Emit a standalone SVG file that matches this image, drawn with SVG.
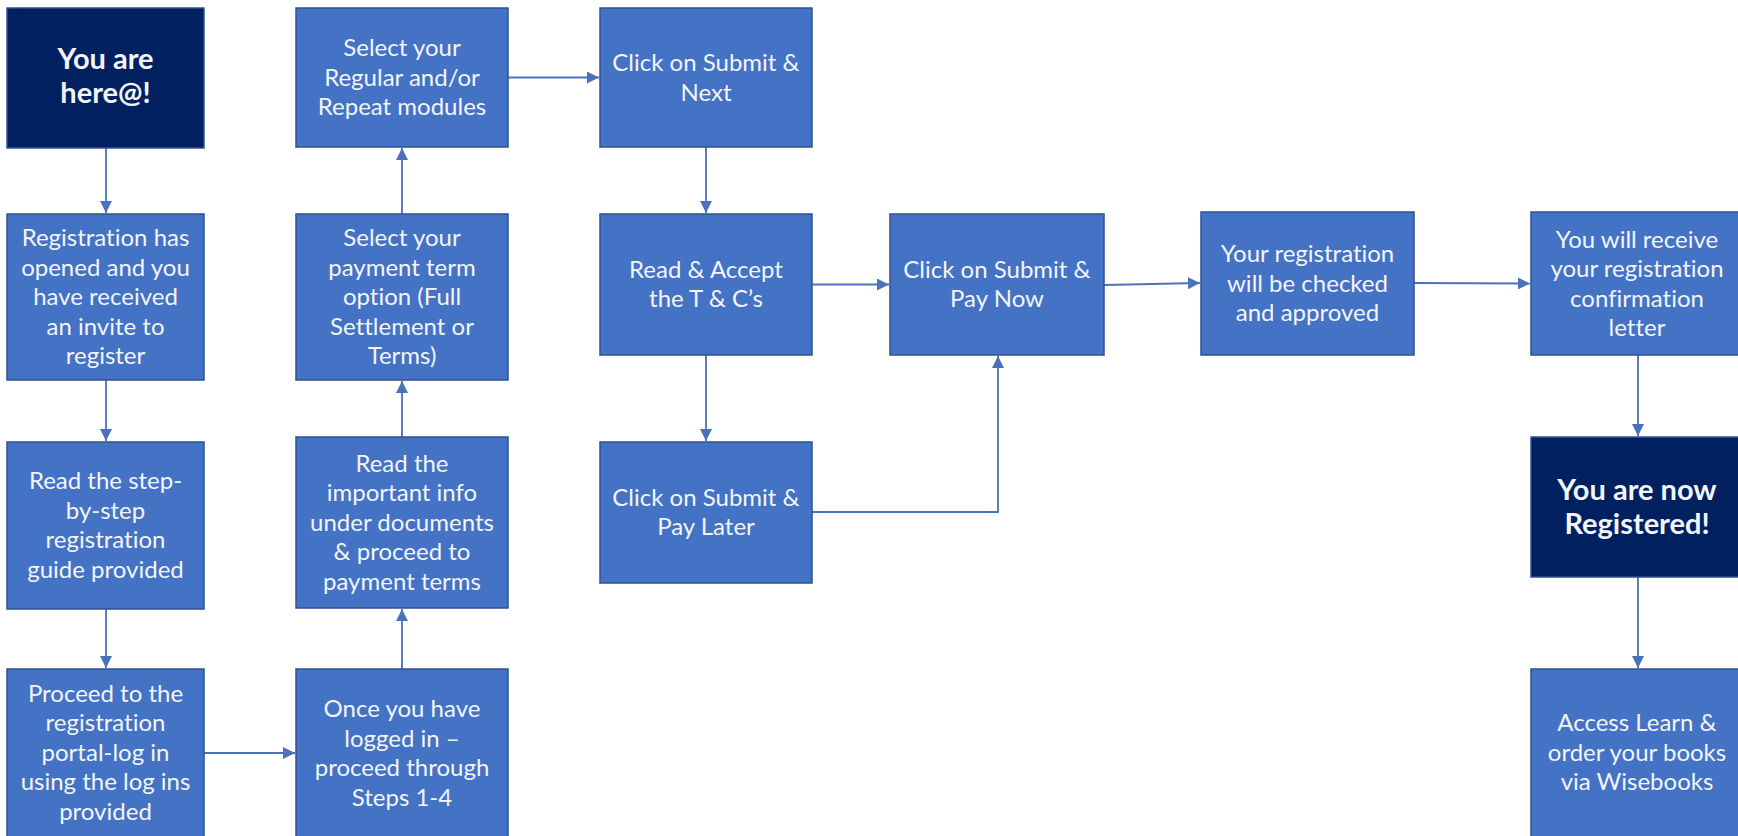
<svg xmlns="http://www.w3.org/2000/svg" width="1738" height="836" viewBox="0 0 1738 836">
<style>
.box{fill:#4472C4;stroke:#2F528F;stroke-width:1.5}
.dark{fill:#002060;stroke:#2F528F;stroke-width:1.5}
.t{font-family:Lato,"Liberation Sans",sans-serif;font-size:24px;fill:#F2F5FB;text-anchor:middle;font-variant-ligatures:none}
.b{font-family:Lato,"Liberation Sans",sans-serif;font-size:29px;font-weight:bold;fill:#F2F5FB;text-anchor:middle;font-variant-ligatures:none}
.c{fill:none;stroke:#4A72BC;stroke-width:1.8}
</style>
<defs>
<marker id="ah" markerUnits="userSpaceOnUse" markerWidth="13" markerHeight="12" refX="12" refY="6" orient="auto">
<path d="M0,0 L12,6 L0,12 z" fill="#4A72BC"/>
</marker>
</defs>
<rect width="1738" height="836" fill="#ffffff"/>
<g id="connectors">
<path class="c" d="M106,148 V213" marker-end="url(#ah)"/>
<path class="c" d="M106,380 V441" marker-end="url(#ah)"/>
<path class="c" d="M106,609 V668" marker-end="url(#ah)"/>
<path class="c" d="M204,753 H295" marker-end="url(#ah)"/>
<path class="c" d="M402,669 V609" marker-end="url(#ah)"/>
<path class="c" d="M402,437 V381" marker-end="url(#ah)"/>
<path class="c" d="M402,214 V148" marker-end="url(#ah)"/>
<path class="c" d="M508,77.5 H599" marker-end="url(#ah)"/>
<path class="c" d="M706,147 V213" marker-end="url(#ah)"/>
<path class="c" d="M706,355 V441" marker-end="url(#ah)"/>
<path class="c" d="M812,284.5 H889" marker-end="url(#ah)"/>
<path class="c" d="M812,512 H998 V356" marker-end="url(#ah)"/>
<path class="c" d="M1104,285 L1200,283" marker-end="url(#ah)"/>
<path class="c" d="M1414,283 L1530,283.5" marker-end="url(#ah)"/>
<path class="c" d="M1638,355 V436" marker-end="url(#ah)"/>
<path class="c" d="M1638,577 V668" marker-end="url(#ah)"/>
</g>
<g id="n1"><rect class="dark" x="7" y="8" width="197" height="140"/>
<text class="b" x="105.5" y="69">You are</text><text class="b" x="105.5" y="103">here@!</text></g>
<g id="n2"><rect class="box" x="7" y="214" width="197" height="166"/>
<text class="t" x="105.5" y="246">Registration has</text><text class="t" x="105.5" y="275.5">opened  and you</text><text class="t" x="105.5" y="305">have received</text><text class="t" x="105.5" y="334.5">an invite to</text><text class="t" x="105.5" y="364">register</text></g>
<g id="n3"><rect class="box" x="7" y="442" width="197" height="167"/>
<text class="t" x="105.5" y="489">Read the step-</text><text class="t" x="105.5" y="518.5">by-step</text><text class="t" x="105.5" y="548">registration</text><text class="t" x="105.5" y="577.5">guide provided</text></g>
<g id="n4"><rect class="box" x="7" y="669" width="197" height="175"/>
<text class="t" x="105.5" y="701.5">Proceed  to the</text><text class="t" x="105.5" y="731">registration</text><text class="t" x="105.5" y="760.5">portal-log in</text><text class="t" x="105.5" y="790">using the log ins</text><text class="t" x="105.5" y="819.5">provided</text></g>
<g id="n5"><rect class="box" x="296" y="8" width="212" height="139"/>
<text class="t" x="402" y="56">Select your</text><text class="t" x="402" y="85.5">Regular and/or</text><text class="t" x="402" y="115">Repeat modules</text></g>
<g id="n6"><rect class="box" x="296" y="214" width="212" height="166"/>
<text class="t" x="402" y="246">Select your</text><text class="t" x="402" y="275.5">payment  term</text><text class="t" x="402" y="305">option  (Full</text><text class="t" x="402" y="334.5">Settlement  or</text><text class="t" x="402" y="364">Terms)</text></g>
<g id="n7"><rect class="box" x="296" y="437" width="212" height="171"/>
<text class="t" x="402" y="471.5">Read the</text><text class="t" x="402" y="501">important  info</text><text class="t" x="402" y="530.5">under documents</text><text class="t" x="402" y="560">&amp; proceed  to</text><text class="t" x="402" y="589.5">payment terms</text></g>
<g id="n8"><rect class="box" x="296" y="669" width="212" height="175"/>
<text class="t" x="402" y="717">Once you  have</text><text class="t" x="402" y="746.5">logged in –</text><text class="t" x="402" y="776">proceed through</text><text class="t" x="402" y="805.5">Steps 1-4</text></g>
<g id="n9"><rect class="box" x="600" y="8" width="212" height="139"/>
<text class="t" x="706" y="71">Click on Submit  &amp;</text><text class="t" x="706" y="100.5">Next</text></g>
<g id="n10"><rect class="box" x="600" y="214" width="212" height="141"/>
<text class="t" x="706" y="277.5">Read &amp; Accept</text><text class="t" x="706" y="307">the T &amp; C’s</text></g>
<g id="n11"><rect class="box" x="600" y="442" width="212" height="141"/>
<text class="t" x="706" y="505.5">Click on Submit  &amp;</text><text class="t" x="706" y="535">Pay Later</text></g>
<g id="n12"><rect class="box" x="890" y="214" width="214" height="141"/>
<text class="t" x="997" y="277.5">Click on Submit  &amp;</text><text class="t" x="997" y="307">Pay Now</text></g>
<g id="n13"><rect class="box" x="1201" y="212" width="213" height="143"/>
<text class="t" x="1307.5" y="262">Your  registration</text><text class="t" x="1307.5" y="291.5">will be checked</text><text class="t" x="1307.5" y="321">and approved</text></g>
<g id="n14"><rect class="box" x="1531" y="212" width="214" height="143"/>
<text class="t" x="1637" y="247.5">You will receive</text><text class="t" x="1637" y="277">your registration</text><text class="t" x="1637" y="306.5">confirmation</text><text class="t" x="1637" y="336">letter</text></g>
<g id="n15"><rect class="dark" x="1531" y="437" width="214" height="140"/>
<text class="b" x="1637" y="500">You are now</text><text class="b" x="1637" y="534">Registered!</text></g>
<g id="n16"><rect class="box" x="1531" y="669" width="214" height="175"/>
<text class="t" x="1637" y="731">Access Learn &amp;</text><text class="t" x="1637" y="760.5">order your  books</text><text class="t" x="1637" y="790">via Wisebooks</text></g>
</svg>
